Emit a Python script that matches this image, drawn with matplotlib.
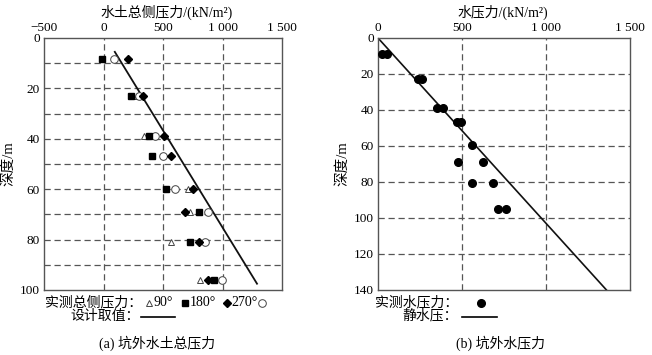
import numpy as np
import matplotlib
matplotlib.use("Agg")
import matplotlib.pyplot as plt

plt.rcParams['font.family'] = ['Liberation Serif', 'Noto Sans CJK SC', 'DejaVu Sans']
plt.rcParams['font.size'] = 9.5

# ---- panel (a) data ----
depth_a = [8.5, 23, 39, 47, 60, 69, 81, 96]
p90 = [np.nan, 285, 340, np.nan, 711, 728, 570, 815]
p180 = [-10, 233, 386, 408, 522, 800, 725, 930]
p270 = [208, 333, 506, 567, 753, 683, 803, 880]
pcirc = [88, 295, 430, 502, 598, 882, 856, 992]
design_depth = [5.5, 97.5]
design_p = [95, 1290]

# ---- panel (b) data ----
water_depth = [8.9, 8.9, 22.6, 22.6, 38.9, 38.9, 46.9, 46.9, 59.3, 68.9, 68.9, 80.6, 80.6, 95.2, 95.2]
water_p = [26, 51, 240, 264, 353, 387, 470, 493, 557, 479, 623, 562, 686, 716, 762]
static_depth = [0, 140]
static_p = [0, 1360]

W, H = 652, 355
fig = plt.figure(figsize=(W / 100, H / 100), dpi=100)
axa = fig.add_axes([44 / W, 65 / H, 238 / W, 252 / H])
axb = fig.add_axes([378 / W, 65 / H, 252 / W, 252 / H])

grid_kw = dict(color='#555555', linestyle=(0, (5, 3)), linewidth=0.9)


def fmt(t):
    if t < 0:
        return '−' + str(-t)
    if t >= 1000:
        return f"{t // 1000} {t % 1000:03d}"
    return str(t)


def style(ax, xlim, ylim, xticks, yticks, ygrid, xgrid):
    ax.set_xlim(*xlim)
    ax.set_ylim(ylim[1], ylim[0])
    ax.xaxis.tick_top()
    ax.set_xticks(xticks)
    ax.set_yticks(yticks)
    ax.set_xticklabels([fmt(t) for t in xticks])
    ax.tick_params(length=0, pad=3, labelsize=9.5)
    for y in ygrid:
        ax.axhline(y, zorder=0, **grid_kw)
    for x in xgrid:
        ax.axvline(x, zorder=0, **grid_kw)
    for s in ax.spines.values():
        s.set_color('#555555')
        s.set_linewidth(1.0)


style(axa, (-500, 1500), (0, 100), [-500, 0, 500, 1000, 1500], [0, 20, 40, 60, 80, 100],
      [10, 20, 30, 40, 50, 60, 70, 80, 90], [0, 500, 1000])
style(axb, (0, 1500), (0, 140), [0, 500, 1000, 1500], [0, 20, 40, 60, 80, 100, 120, 140],
      [20, 40, 60, 80, 100, 120], [500, 1000])

ms = 5
tri_kw = dict(ls='none', marker='^', ms=ms, mfc='white', mec='#444444', mew=0.7)
circ_kw = dict(ls='none', marker='o', ms=ms + 0.5, mfc='white', mec='#444444', mew=0.7)
sq_kw = dict(ls='none', marker='s', ms=ms, color='black')
dia_kw = dict(ls='none', marker='D', ms=ms - 1, color='black')

axa.plot(design_p, design_depth, color='#111111', lw=1.3, zorder=2)
axa.plot(p90, depth_a, zorder=3, **tri_kw)
axa.plot(pcirc, depth_a, zorder=3, **circ_kw)
axa.plot(p180, depth_a, zorder=4, **sq_kw)
axa.plot(p270, depth_a, zorder=4, **dia_kw)

axb.plot(static_p, static_depth, color='#111111', lw=1.2, zorder=2)
axb.plot(water_p, water_depth, ls='none', marker='o', ms=5.5, color='black', zorder=3)

axa.set_ylabel('深度/m', labelpad=3, fontsize=10.5)
axb.set_ylabel('深度/m', labelpad=3, fontsize=10.5)

fig.text(167 / W, 1 - 12 / H, '水土总侧压力/(kN/m²)', ha='center', va='center', fontsize=10)
fig.text(503 / W, 1 - 12 / H, '水压力/(kN/m²)', ha='center', va='center', fontsize=10)


def fx(px):
    return px / W


def fy(py):
    return 1 - py / H


# legend (a)
yl = 303
fig.text(fx(45), fy(yl), '实测总侧压力：', ha='left', va='center', fontsize=10)
fig.add_artist(plt.Line2D([fx(149)], [fy(yl)], **tri_kw))
fig.text(fx(153), fy(yl), '90°', ha='left', va='center', fontsize=10)
fig.add_artist(plt.Line2D([fx(185)], [fy(yl)], **sq_kw))
fig.text(fx(190), fy(yl), '180°', ha='left', va='center', fontsize=10)
fig.add_artist(plt.Line2D([fx(227)], [fy(yl)], **dia_kw))
fig.text(fx(231), fy(yl), '270°', ha='left', va='center', fontsize=10)
fig.add_artist(plt.Line2D([fx(262)], [fy(yl)], **circ_kw))
fig.text(fx(140), fy(316), '设计取值：', ha='right', va='center', fontsize=10)
fig.add_artist(plt.Line2D([fx(141), fx(175)], [fy(317), fy(317)], color='black', lw=1.2))
fig.text(fx(157), fy(343), '(a) 坑外水土总压力', ha='center', va='center', fontsize=10)

# legend (b)
fig.text(fx(458), fy(303), '实测水压力：', ha='right', va='center', fontsize=10)
fig.add_artist(plt.Line2D([fx(481)], [fy(303)], marker='o', ms=5.5, color='black', ls='none'))
fig.text(fx(458), fy(316), '静水压：', ha='right', va='center', fontsize=10)
fig.add_artist(plt.Line2D([fx(462), fx(497)], [fy(317), fy(317)], color='black', lw=1.2))
fig.text(fx(500), fy(343), '(b) 坑外水压力', ha='center', va='center', fontsize=10)

fig.savefig('out.png', dpi=100, facecolor='white')
